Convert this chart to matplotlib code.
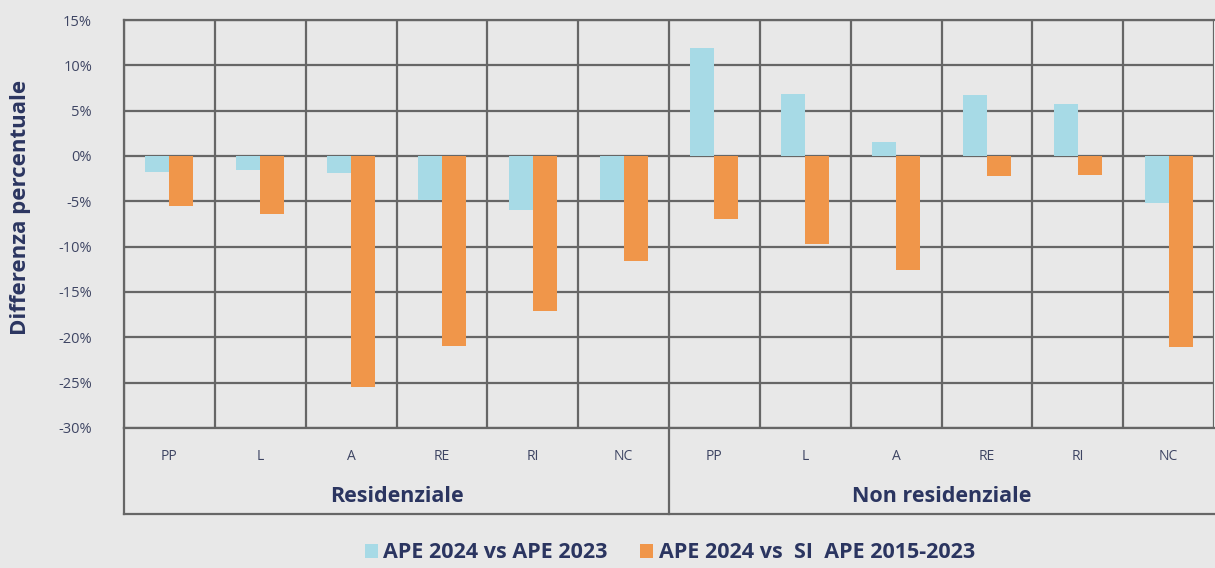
import matplotlib
matplotlib.use("Agg")
import matplotlib.pyplot as plt
import numpy as np

plt.rcParams['font.family'] = ['Open Sans', 'DejaVu Sans']

# data
groups = ['Residenziale', 'Non residenziale']
categories = ['PP', 'L', 'A', 'RE', 'RI', 'NC']
ape_vs_2023 = [-1.8, -1.5, -1.9, -4.9, -6.0, -4.8,
               11.9, 6.8, 1.5, 6.7, 5.7, -5.2]
ape_vs_si = [-5.5, -6.4, -25.5, -21.0, -17.1, -11.6,
             -6.9, -9.7, -12.6, -2.2, -2.1, -21.1]
series_names = ['APE 2024 vs APE 2023', 'APE 2024 vs  SI  APE 2015-2023']

blue = '#A7DAE6'
orange = '#F0964A'
grid_col = '#666666'
bg = '#E8E8E8'
navy = '#2B3560'
tick_col = '#3E4563'

fig = plt.figure(figsize=(12.15, 5.68), dpi=100, facecolor=bg)
W, H = 1215, 568
ax = fig.add_axes([124 / W, 1 - 428 / H, (1214 - 124) / W, (428 - 20) / H])
ax.set_facecolor(bg)

n = len(ape_vs_2023)
x = np.arange(n) + 0.5
w = 0.265
ax.bar(x - w / 2, ape_vs_2023, w, color=blue, zorder=3, label=series_names[0])
ax.bar(x + w / 2, ape_vs_si, w, color=orange, zorder=3, label=series_names[1])

ax.set_xlim(0, n)
ax.set_ylim(-30, 15)
ax.set_yticks(np.arange(-30, 16, 5))
ax.set_yticklabels([f'{v}%' for v in range(-30, 16, 5)], color=tick_col, fontsize=10.5)
ax.set_xticks(np.arange(0, n + 1))
ax.set_xticklabels([])
ax.tick_params(length=0)
ax.tick_params(axis='y', pad=23)
ax.grid(True, color=grid_col, linewidth=1.6, zorder=1)
for s in ax.spines.values():
    s.set_color(grid_col)
    s.set_linewidth(1.6)
ax.spines['right'].set_visible(False)

ax.set_ylabel('Differenza percentuale', color=navy, fontsize=16,
              fontweight='bold', labelpad=20)
ax.yaxis.label.set_y(0.54)

# category axis below the plot
lo = -86 / (428 - 20)  # bottom of category box, in axes coords
tr = ax.get_xaxis_transform()
line_kw = dict(color=grid_col, linewidth=1.6, clip_on=False, transform=tr)
ax.plot([0, 0], [0, lo], **line_kw)
ax.plot([6, 6], [0, lo], **line_kw)
ax.plot([0, n], [lo, lo], **line_kw)
for i in range(n):
    ax.text(x[i], -29 / 408, categories[i % 6], transform=tr, ha='center',
            va='center', fontsize=10, color=tick_col)
for g, name in enumerate(groups):
    ax.text(g * 6 + 3, -69 / 408, name, transform=tr, ha='center',
            va='center', fontsize=15.5, fontweight='bold', color=navy)

leg = fig.legend(loc='center', bbox_to_anchor=(670 / W, 1 - 553 / H), ncol=2,
                 frameon=False, fontsize=15.5, handlelength=0.6, handleheight=0.6,
                 handletextpad=0.25, columnspacing=1.5)
for t in leg.get_texts():
    t.set_color(navy)
    t.set_fontweight('bold')

fig.savefig('out.png', dpi=100, facecolor=bg)
